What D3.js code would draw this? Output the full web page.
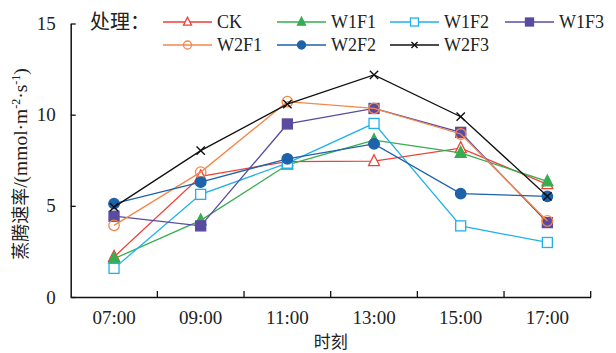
<!DOCTYPE html>
<html><head><meta charset="utf-8">
<script src="https://cdn.jsdelivr.net/npm/d3@7"></script>
<style>
body{margin:0;background:#fff;}
svg{display:block;}
text{font-family:"Liberation Serif","Noto Sans CJK SC",serif;fill:#222;}
</style></head>
<body>
<svg id="c" width="616" height="353"></svg>
<script>
const categories = ["07:00","09:00","11:00","13:00","15:00","17:00"];
const seriesNames = ["CK","W1F1","W1F2","W1F3","W2F1","W2F2","W2F3"];
const CK   = [2.2, 6.62, 7.43, 7.45, 8.16, 6.18];
const W1F1 = [2.1, 4.2, 7.25, 8.6, 7.9, 6.34];
const W1F2 = [1.57, 5.63, 7.34, 9.52, 3.9, 2.99];
const W1F3 = [4.43, 3.9, 9.49, 10.34, 9.03, 4.08];
const W2F1 = [3.93, 6.85, 10.71, 10.35, 8.94, 4.17];
const W2F2 = [5.12, 6.3, 7.58, 8.4, 5.67, 5.52];
const W2F3 = [4.93, 8.03, 10.58, 12.18, 9.89, 5.52];
const yTicks = [0,5,10,15];
const legendTitle = "处理：";
const xLabel = "时刻";

const seriesValues = [CK,W1F1,W1F2,W1F3,W2F1,W2F2,W2F3];
const colors = ["#ef4136","#36ad4f","#1fb1ea","#5a4ba0","#f5874a","#1d62aa","#111111"];
const shapes = ["triOpen","triFill","sqOpen","sqFill","cirOpen","cirFill","cross"];

const svg = d3.select("#c");
const L = 70.7, R = 590.7, T = 23.5, B = 297;
const x = d3.scaleBand().domain(categories).range([L,R]).padding(0);
const y = d3.scaleLinear().domain([0,15]).range([B,T]);

// axes
const ax = svg.append("g").attr("transform",`translate(0,${B})`)
  .call(d3.axisBottom(x).tickSize(0).tickPadding(14).tickSizeOuter(0));
ax.select(".domain").attr("stroke","#111").attr("stroke-width",1.5);
ax.selectAll("text").attr("font-size",19).attr("font-family","Liberation Serif").attr("fill","#222");
// boundary ticks (inside, upward)
const bounds = categories.map(c=>x(c)).concat([R]).slice(1);
svg.append("g").selectAll("line").data(bounds).join("line")
  .attr("x1",d=>d).attr("x2",d=>d).attr("y1",B).attr("y2",B-6)
  .attr("stroke","#111").attr("stroke-width",1.3);

const ay = svg.append("g").attr("transform",`translate(${L},0)`)
  .call(d3.axisLeft(y).tickValues(yTicks).tickSize(-5).tickPadding(15).tickSizeOuter(0));
ay.select(".domain").attr("stroke","#111").attr("stroke-width",1.5);
ay.selectAll(".tick line").attr("stroke","#111").attr("stroke-width",1.3);
ay.selectAll("text").attr("font-size",19).attr("font-family","Liberation Serif").attr("fill","#222");

// labels
svg.append("text").attr("x",(L+R)/2).attr("y",348).attr("text-anchor","middle")
  .attr("font-size",17).attr("font-family","Noto Sans CJK SC").text(xLabel);
const yl = svg.append("text").attr("transform","translate(27,164) rotate(-90)")
  .attr("text-anchor","middle").attr("font-size",19.5);
yl.append("tspan").attr("font-family","Noto Sans CJK SC").attr("font-size",18).text("蒸腾速率");
yl.append("tspan").text("/(mmol·m");
yl.append("tspan").attr("font-size",12).attr("dy",-7).text("-2");
yl.append("tspan").attr("dy",7).text("·s");
yl.append("tspan").attr("font-size",12).attr("dy",-7).text("-1");
yl.append("tspan").attr("dy",7).text(")");

function marker(g, shape, color, cx, cy, s){
  if(shape==="triOpen"||shape==="triFill"){
    const h = s*0.95;
    g.append("path").attr("d",`M${cx},${cy-h*0.62}L${cx+s/2},${cy+h*0.42}L${cx-s/2},${cy+h*0.42}Z`)
      .attr("fill",shape==="triFill"?color:"#fff").attr("stroke",color).attr("stroke-width",1.3);
  } else if(shape==="sqOpen"||shape==="sqFill"){
    g.append("rect").attr("x",cx-s/2).attr("y",cy-s/2).attr("width",s).attr("height",s)
      .attr("fill",shape==="sqFill"?color:"#fff").attr("stroke",color).attr("stroke-width",1.3);
  } else if(shape==="cirOpen"||shape==="cirFill"){
    g.append("circle").attr("cx",cx).attr("cy",cy).attr("r",s/2)
      .attr("fill",shape==="cirFill"?color:"none").attr("stroke",color).attr("stroke-width",1.3);
  } else {
    const d = s*0.38;
    g.append("path").attr("d",`M${cx-d},${cy-d}L${cx+d},${cy+d}M${cx-d},${cy+d}L${cx+d},${cy-d}`)
      .attr("stroke",color).attr("stroke-width",1.4).attr("fill","none");
  }
}

const line = d3.line().x((d,i)=>x(categories[i])+x.bandwidth()/2).y(d=>y(d));
seriesValues.forEach((vals,si)=>{
  const g = svg.append("g");
  g.append("path").datum(vals).attr("d",line).attr("fill","none")
    .attr("stroke",colors[si]).attr("stroke-width",1.3);
  vals.forEach((v,i)=>{
    const sz = shapes[si].startsWith("tri")?11:(shapes[si].startsWith("sq")?10:(shapes[si]==="cross"?11:10.5));
    marker(g, shapes[si], colors[si], x(categories[i])+x.bandwidth()/2, y(v), sz);
  });
});

// legend
svg.append("text").attr("x",90).attr("y",29).attr("font-size",20)
  .attr("font-family","Noto Sans CJK SC").text(legendTitle);
const legPos = [[163,22],[277,22],[390,22],[505,22],[163,45],[277,45],[390,45]];
seriesNames.forEach((n,i)=>{
  const [lx,ly] = legPos[i];
  const g = svg.append("g");
  g.append("line").attr("x1",lx).attr("x2",lx+49).attr("y1",ly).attr("y2",ly)
    .attr("stroke",colors[i]).attr("stroke-width",1.3);
  marker(g, shapes[i], colors[i], lx+24.5, ly, 8);
  g.append("text").attr("x",lx+54).attr("y",ly+6).attr("font-size",18).text(n);
});
</script>
</body></html>
